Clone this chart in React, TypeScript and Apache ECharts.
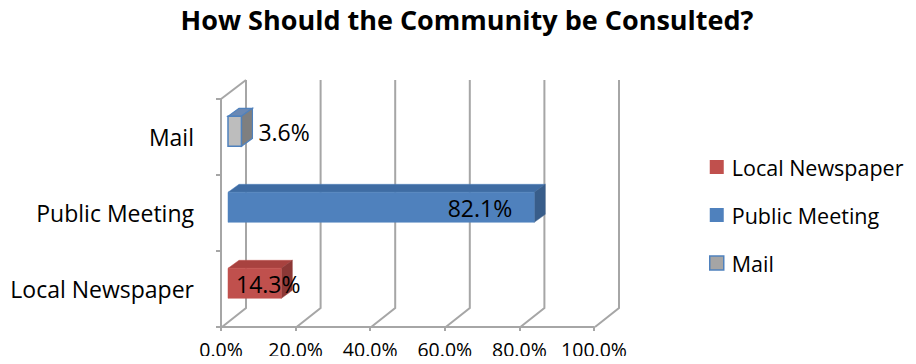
import React, { useEffect, useRef } from "react";
import * as echarts from "echarts";

const categories = ["Local Newspaper", "Public Meeting", "Mail"];
const values = [14.3, 82.1, 3.6];
const xTicks = [0, 20, 40, 60, 80, 100];
const titleText = "How Should the Community be Consulted?";

const FONT = "'Open Sans', 'Noto Sans', sans-serif";
const GRID_COLOR = "#a6a6a6";
const WALL_DX = 25;
const WALL_DY = -19;

const faceColors = [
  { front: "#c0504d", top: "#a8423f", side: "#8c3836", border: "#c0504d", legend: "#c0504d", legendBorder: "#c0504d" },
  { front: "#4f81bd", top: "#3f6ca3", side: "#385d8a", border: "#4f81bd", legend: "#4f81bd", legendBorder: "#4f81bd" },
  { front: "#bdbdbd", top: "#6a88b3", side: "#7f7f7f", border: "#4f81bd", legend: "#a5a5a5", legendBorder: "#4f81bd" },
];
const labelMode = ["insideStart", "insideEnd", "outside"];

export default function App() {
  const ref = useRef<HTMLDivElement>(null);
  useEffect(() => {
    if (!ref.current) return;
    const chart = echarts.init(ref.current, undefined, { renderer: "svg" });

    const renderFrame = (params: any, api: any) => {
      const v = api.value(0);
      const cs = params.coordSys;
      const bottom = cs.y + cs.height;
      const top = cs.y;
      const x = api.coord([v, 0])[0];
      const children: any[] = [
        {
          type: "polyline",
          shape: {
            points: [
              [x + 1, bottom],
              [x + WALL_DX, bottom + WALL_DY],
              [x + WALL_DX, top + WALL_DY],
            ],
          },
          style: { stroke: GRID_COLOR, lineWidth: 2, fill: "none" },
        },
      ];
      if (v === 0) {
        children.push({
          type: "line",
          shape: { x1: x, y1: top, x2: x + WALL_DX, y2: top + WALL_DY },
          style: { stroke: GRID_COLOR, lineWidth: 2 },
        });
      }
      return { type: "group", children };
    };

    const renderBar = (params: any, api: any) => {
      const val = api.value(0);
      const cat = api.value(1);
      const s = api.coord([0, cat]);
      const e = api.coord([val, cat]);
      const band = api.size([0, 1])[1];
      const h = band * 0.395;
      const fx = WALL_DX * 0.28;
      const fy = WALL_DY * 0.3;
      const dx = WALL_DX * 0.44;
      const dy = WALL_DY * 0.42;
      const x0 = s[0] + fx;
      const x1 = e[0] + fx;
      const yc = s[1] + fy;
      const y0 = yc - h / 2;
      const y1 = yc + h / 2;
      const c = faceColors[cat];
      const mode = labelMode[cat];
      let lx = x0 + 8;
      let align = "left";
      if (mode === "insideEnd") {
        lx = x1 - 22;
        align = "right";
      } else if (mode === "outside") {
        lx = x1 + dx + 6;
        align = "left";
      }
      return {
        type: "group",
        children: [
          {
            type: "polygon",
            shape: { points: [[x0, y0], [x1, y0], [x1 + dx, y0 + dy], [x0 + dx, y0 + dy]] },
            style: { fill: c.top, stroke: c.border, lineWidth: cat === 2 ? 1.2 : 0.5 },
          },
          {
            type: "polygon",
            shape: { points: [[x1, y0], [x1 + dx, y0 + dy], [x1 + dx, y1 + dy], [x1, y1]] },
            style: { fill: c.side, stroke: cat === 2 ? c.border : c.side, lineWidth: cat === 2 ? 1.2 : 0.5 },
          },
          {
            type: "rect",
            shape: { x: x0, y: y0, width: x1 - x0, height: y1 - y0 },
            style: { fill: c.front, stroke: c.border, lineWidth: cat === 2 ? 1.5 : 0.5 },
          },
          {
            type: "text",
            style: {
              text: val.toFixed(1) + "%",
              x: lx,
              y: yc + 1,
              align,
              verticalAlign: "middle",
              font: `23px ${FONT}`,
              fill: "#000",
            },
          },
        ],
      };
    };

    const barSeries = categories.map((name, i) => ({
      name,
      type: "custom",
      renderItem: renderBar,
      data: [[values[i], i]],
      encode: { x: 0, y: 1 },
      itemStyle: { color: faceColors[i].legend },
      z: 3,
    }));

    chart.setOption({
      animation: false,
      title: {
        text: titleText,
        left: 462,
        textAlign: "center",
        top: 1,
        textStyle: { fontFamily: FONT, fontWeight: "bold", fontSize: 27, color: "#000" },
      },
      legend: {
        orient: "vertical",
        left: 709,
        top: 154,
        padding: 0,
        itemWidth: 14,
        itemHeight: 14,
        itemGap: 22,
        icon: "rect",
        selectedMode: false,
        textStyle: { fontFamily: FONT, fontSize: 21.5, lineHeight: 26, color: "#000", padding: [0, 0, 0, 3] },
        data: categories.map((name, i) => ({
          name,
          itemStyle: { color: faceColors[i].legend, borderColor: faceColors[i].legendBorder, borderWidth: i === 2 ? 1.5 : 0 },
        })),
      },
      grid: { left: 221, top: 99, width: 373, height: 228 },
      xAxis: {
        type: "value",
        min: 0,
        max: 100,
        interval: 20,
        axisLine: { show: true, lineStyle: { color: GRID_COLOR, width: 2 } },
        axisTick: { show: true, length: 4, lineStyle: { color: GRID_COLOR, width: 2 } },
        splitLine: { show: false },
        axisLabel: {
          margin: 12,
          fontFamily: FONT,
          fontSize: 19.5,
          color: "#000",
          formatter: (v: number) => v.toFixed(1) + "%",
        },
      },
      yAxis: {
        type: "category",
        data: categories,
        axisLine: { show: true, lineStyle: { color: GRID_COLOR, width: 2 } },
        axisTick: { show: true, length: 5, lineStyle: { color: GRID_COLOR, width: 2 } },
        splitLine: { show: false },
        axisLabel: { margin: 27, fontFamily: FONT, fontSize: 23, color: "#000" },
      },
      series: [
        {
          name: "frame",
          type: "custom",
          renderItem: renderFrame,
          data: xTicks.map((t) => [t]),
          encode: { x: 0 },
          silent: true,
          z: 1,
        },
        ...barSeries,
      ],
    });
    return () => chart.dispose();
  }, []);
  return <div ref={ref} style={{ width: 916, height: 364, margin: -8 }} />;
}
